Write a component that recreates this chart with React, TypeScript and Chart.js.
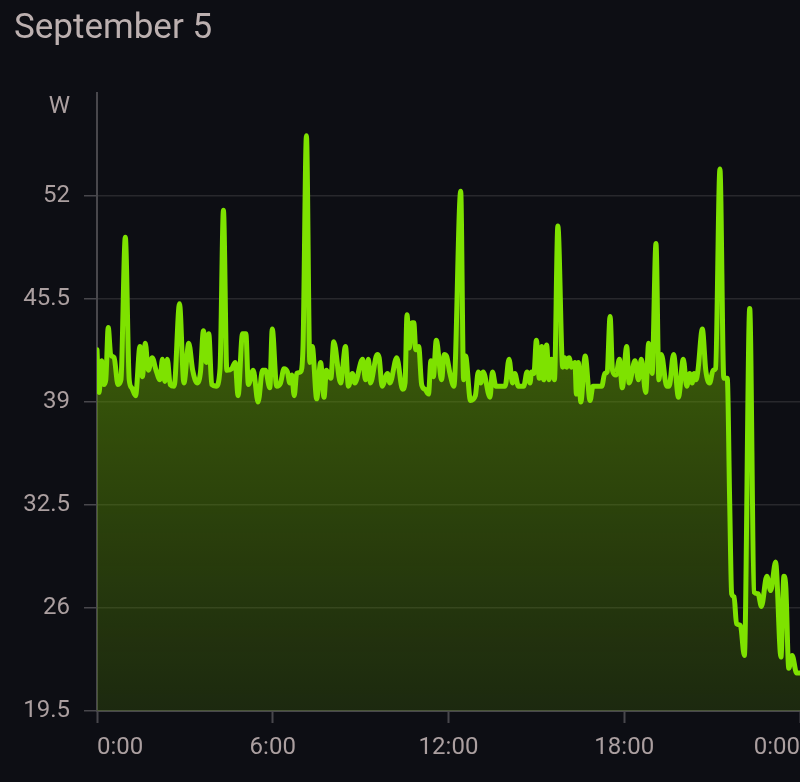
import React, { useEffect, useRef } from "react";
import { Chart, registerables } from "chart.js";

Chart.register(...registerables);

const titleText = "September 5";
const unitLabel = "W";
const unitTickValue = 57.6;
const yTicks = [19.5, 26, 32.5, 39, 45.5, 52];
const xTicks = [0, 360, 720, 1080, 1440];

// minutes since midnight
const minutes = [
  0, 4, 10, 14, 18, 23, 28, 35, 43, 49, 58, 66, 71, 79, 88, 93, 99, 105, 113, 121,
  129, 134, 139, 144, 150, 158, 169, 178, 188, 196, 205, 212, 218, 224, 229, 235, 244, 252, 259, 266,
  276, 283, 289, 298, 305, 310, 320, 330, 339, 345, 354, 359, 368, 376, 383, 390, 395, 399, 404, 409,
  417, 422, 429, 436, 441, 450, 458, 465, 470, 479, 485, 499, 509, 515, 523, 528, 544, 550, 556, 560,
  574, 578, 584, 595, 600, 614, 626, 631, 635, 640, 645, 649, 653, 659, 665, 672, 679, 684, 689, 695,
  706, 711, 716, 723, 731, 745, 751, 755, 765, 775, 781, 786, 791, 805, 810, 817, 836, 844, 851, 856,
  863, 874, 881, 887, 890, 895, 900, 906, 911, 915, 921, 926, 931, 937, 944, 954, 958, 962, 967, 972,
  979, 982, 986, 991, 1000, 1010, 1016, 1034, 1040, 1045, 1051, 1056, 1063, 1070, 1076, 1085, 1090, 1102, 1109, 1115,
  1124, 1130, 1137, 1145, 1151, 1156, 1167, 1172, 1181, 1191, 1201, 1208, 1214, 1219, 1223, 1227, 1231, 1240, 1247, 1255,
  1262, 1267, 1276, 1284, 1291, 1296, 1300, 1305, 1310, 1318, 1326, 1337, 1346, 1354, 1361, 1372, 1380, 1390, 1401, 1407,
  1411, 1417, 1424, 1433, 1440,
];

const watts = [
  42.3, 39.6, 41.6, 40.1, 40.4, 43.7, 42.0, 41.8, 40.1, 40.4, 49.4, 40.4, 39.9, 39.4, 42.5, 40.6, 42.7, 41.0, 41.8, 41.0,
  40.4, 41.7, 40.3, 41.7, 40.1, 40.0, 45.2, 40.2, 42.7, 41.0, 40.2, 40.9, 43.5, 41.5, 43.3, 40.1, 40.0, 41.1, 51.1, 41.0,
  41.1, 41.5, 39.4, 43.3, 43.3, 40.1, 41.0, 39.0, 41.0, 41.0, 39.9, 43.6, 40.0, 40.2, 41.1, 40.9, 40.2, 40.7, 39.4, 40.8,
  40.9, 42.5, 55.8, 41.5, 42.5, 39.2, 41.5, 39.3, 41.0, 40.5, 42.8, 40.2, 42.5, 40.0, 40.8, 40.2, 41.7, 40.4, 41.7, 40.2,
  42.0, 41.8, 40.0, 40.8, 40.2, 41.8, 39.8, 40.2, 44.5, 42.4, 44.0, 44.0, 42.3, 42.5, 40.1, 39.8, 39.5, 41.6, 40.6, 42.9,
  40.4, 42.0, 41.9, 40.8, 40.0, 52.3, 40.4, 41.9, 39.1, 39.4, 40.9, 40.2, 40.9, 39.3, 40.9, 40.0, 40.0, 41.7, 40.2, 40.8,
  40.0, 40.0, 40.9, 40.2, 40.9, 40.8, 42.9, 40.5, 42.5, 40.4, 42.6, 40.4, 41.7, 40.4, 50.1, 41.2, 41.8, 41.2, 41.8, 41.2,
  41.5, 39.5, 41.5, 39.0, 41.9, 39.1, 40.0, 40.0, 40.8, 40.9, 44.4, 41.0, 40.7, 41.7, 39.9, 42.5, 40.2, 41.6, 40.4, 41.7,
  39.6, 42.7, 40.8, 49.0, 40.4, 42.0, 40.0, 40.0, 42.0, 39.3, 41.7, 40.0, 40.8, 40.2, 40.8, 40.4, 41.0, 43.6, 41.0, 40.2,
  41.0, 41.1, 53.7, 40.5, 40.5, 32.6, 26.9, 26.7, 25.0, 24.9, 23.0, 44.9, 27.0, 26.9, 26.1, 28.0, 27.1, 28.9, 22.9, 28.0,
  27.3, 22.2, 23.0, 21.9, 21.9,
];

const bg = "#0d0e14";
const lineColor = "#7ee200";
const textColor = "#ab9fa0";
const titleColor = "#bcb0b0";
const axisColor = "#48474c";
const gridColor = "#28282d";
const fontFamily = "Roboto";

export default function App() {
  const ref = useRef<HTMLCanvasElement>(null);
  useEffect(() => {
    const canvas = ref.current;
    if (!canvas) return;
    const chart = new Chart(canvas, {
      type: "line",
      data: {
        datasets: [
          {
            data: minutes.map((m, i) => ({ x: m, y: watts[i] })),
            borderColor: lineColor,
            borderWidth: 5,
            borderJoinStyle: "round",
            borderCapStyle: "round",
            cubicInterpolationMode: "monotone",
            pointRadius: 0,
            fill: "start",
            backgroundColor: (ctx: any) => {
              const area = ctx.chart.chartArea;
              if (!area) return "rgba(80,120,0,0.5)";
              const g = ctx.chart.ctx.createLinearGradient(0, area.top, 0, area.bottom);
              g.addColorStop(0, "rgba(108,170,0,0.75)");
              g.addColorStop(1, "rgba(80,130,0,0.24)");
              return g;
            },
          },
        ],
      },
      options: {
        responsive: false,
        animation: false,
        devicePixelRatio: 1,
        layout: { padding: { left: 14, right: 0, top: 0, bottom: 0 } },
        plugins: {
          legend: { display: false },
          tooltip: { enabled: false },
          title: {
            display: true,
            text: titleText,
            align: "start",
            color: titleColor,
            font: { family: fontFamily, size: 35, weight: "normal" },
            padding: { top: 8, bottom: 43 },
          },
        },
        scales: {
          x: {
            type: "linear",
            min: 0,
            max: 1440,
            afterBuildTicks: (scale: any) => {
              scale.ticks = xTicks.map((value) => ({ value }));
            },
            afterFit: (scale: any) => {
              scale.height = 71;
              scale.paddingLeft = 0;
              scale.paddingRight = 0;
            },
            ticks: {
              autoSkip: false,
              maxRotation: 0,
              align: "inner",
              color: textColor,
              padding: 11,
              font: { family: fontFamily, size: 24 },
              callback: (v: any) => `${Math.round(Number(v) / 60) % 24}:00`,
            },
            grid: {
              drawOnChartArea: false,
              drawTicks: true,
              tickLength: 12,
              tickColor: axisColor,
              tickWidth: 2,
            },
            border: { display: true, color: axisColor, width: 2 },
          },
          y: {
            min: 19.5,
            max: 58.5,
            afterBuildTicks: (scale: any) => {
              scale.ticks = [...yTicks, unitTickValue].map((value) => ({ value }));
            },
            afterFit: (scale: any) => {
              scale.width = 83;
              scale.paddingTop = 0;
              scale.paddingBottom = 0;
            },
            ticks: {
              color: textColor,
              padding: 14,
              font: { family: fontFamily, size: 24 },
              callback: (v: any) => (Number(v) === unitTickValue ? unitLabel : String(v)),
            },
            grid: {
              color: (ctx: any) =>
                ctx.tick && ctx.tick.value === unitTickValue ? "rgba(0,0,0,0)" : gridColor,
              tickColor: (ctx: any) =>
                ctx.tick && ctx.tick.value === unitTickValue ? "rgba(0,0,0,0)" : axisColor,
              lineWidth: 1.5,
              tickLength: 13,
            },
            border: { display: true, color: axisColor, width: 2 },
          },
        },
      },
    } as any);
    return () => chart.destroy();
  }, []);
  return (
    <div style={{ position: "fixed", left: 0, top: 0, width: 800, height: 782, background: bg }}>
      <canvas ref={ref} width={800} height={782} style={{ display: "block" }} />
    </div>
  );
}
